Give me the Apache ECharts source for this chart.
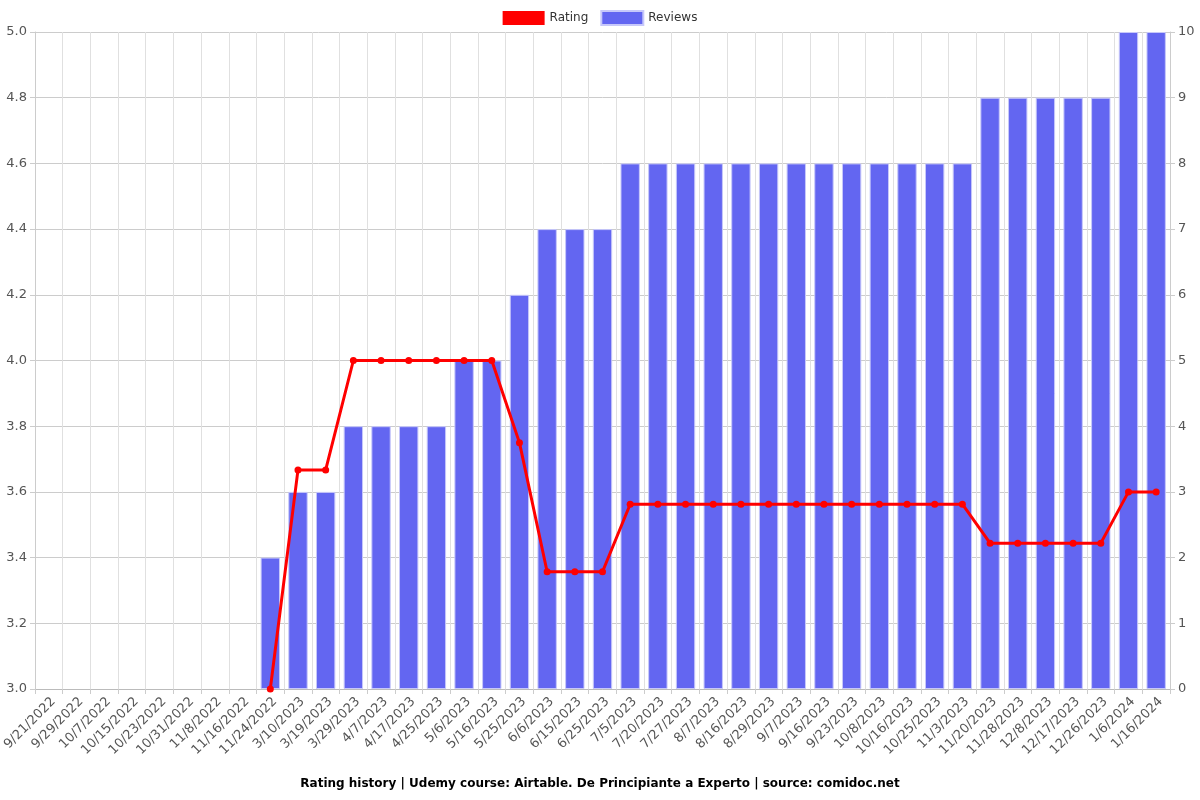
<!DOCTYPE html>
<html>
<head>
<meta charset="utf-8">
<script src="https://cdn.jsdelivr.net/npm/echarts@6/dist/echarts.min.js"></script>
<style>
  html, body { margin: 0; padding: 0; background: #fff; }
  #chart { width: 1200px; height: 800px; }
</style>
</head>
<body>
<div id="chart"></div>
<script>
// dates on the x axis
const dates = ['9/21/2022', '9/29/2022', '10/7/2022', '10/15/2022', '10/23/2022', '10/31/2022', '11/8/2022', '11/16/2022',
  '11/24/2022', '3/10/2023', '3/19/2023', '3/29/2023', '4/7/2023', '4/17/2023', '4/25/2023', '5/6/2023', '5/16/2023',
  '5/25/2023', '6/6/2023', '6/15/2023', '6/25/2023', '7/5/2023', '7/20/2023', '7/27/2023', '8/7/2023', '8/16/2023',
  '8/29/2023', '9/7/2023', '9/16/2023', '9/23/2023', '10/8/2023', '10/16/2023', '10/25/2023', '11/3/2023',
  '11/20/2023', '11/28/2023', '12/8/2023', '12/17/2023', '12/26/2023', '1/6/2024', '1/16/2024']

// average rating (null = no data yet)
const rating = [null, null, null, null, null, null, null, null,
  3.0, 3.667, 3.667, 4.0, 4.0, 4.0, 4.0, 4.0, 4.0,
  3.75, 3.357, 3.357, 3.357, 3.5625, 3.5625, 3.5625, 3.5625, 3.5625,
  3.5625, 3.5625, 3.5625, 3.5625, 3.5625, 3.5625, 3.5625, 3.5625,
  3.444, 3.444, 3.444, 3.444, 3.444, 3.6, 3.6]

// number of reviews
const reviews = [0, 0, 0, 0, 0, 0, 0, 0,
  2, 3, 3, 4, 4, 4, 4, 5, 5,
  6, 7, 7, 7, 8, 8, 8, 8, 8,
  8, 8, 8, 8, 8, 8, 8, 8,
  9, 9, 9, 9, 9, 10, 10]

const chart = echarts.init(document.getElementById('chart'))
const font = 'DejaVu Sans'

const option = {
  textStyle: { fontFamily: font },
  animation: false,
  title: {
    text: 'Rating history | Udemy course: Airtable. De Principiante a Experto | source: comidoc.net',
    left: 'center',
    bottom: 5,
    textStyle: { fontSize: 12, fontWeight: 'bold', color: '#000', fontFamily: font }
  },
  legend: {
    top: 5,
    itemWidth: 42,
    itemHeight: 14,
    itemGap: 12,
    textStyle: { fontSize: 12, color: '#333', fontFamily: font },
    data: [
      { name: 'Rating', icon: 'rect' },
      { name: 'Reviews', icon: 'rect' }
    ]
  },
  // fixed plot box, labels may run outside it
  grid: { left: 35, right: 30, top: 32, bottom: 111, outerBoundsMode: 'none', containLabel: false },
  xAxis: {
    type: 'category',
    data: dates,
    boundaryGap: true,
    axisLine: { lineStyle: { color: '#bbb' } },
    axisTick: { show: true, lineStyle: { color: '#ccc' } },
    splitLine: { show: true, lineStyle: { color: '#e0e0e0' } },
    axisLabel: { rotate: 45, interval: 0, color: '#555', fontSize: 13, margin: 6, verticalAlign: 'top' }
  },
  yAxis: [
    {
      type: 'value',
      min: 3.0,
      max: 5.0,
      interval: 0.2,
      position: 'left',
      axisLine: { show: true, lineStyle: { color: '#ccc' } },
      axisTick: { show: true, lineStyle: { color: '#ccc' } },
      splitLine: { lineStyle: { color: '#ccc' } },
      axisLabel: { color: '#555', fontSize: 13, formatter: v => v.toFixed(1) }
    },
    {
      type: 'value',
      min: 0,
      max: 10,
      interval: 1,
      position: 'right',
      axisLine: { show: true, lineStyle: { color: '#ccc' } },
      axisTick: { show: true, lineStyle: { color: '#ccc' } },
      splitLine: { show: false },
      axisLabel: { color: '#555', fontSize: 13 }
    }
  ],
  series: [
    {
      name: 'Rating',
      type: 'line',
      yAxisIndex: 0,
      data: rating,
      z: 3,
      color: '#ff0000',
      symbol: 'circle',
      symbolSize: 7,
      showSymbol: true,
      lineStyle: { width: 3, color: '#ff0000' },
      itemStyle: { color: '#ff0000' }
    },
    {
      name: 'Reviews',
      type: 'bar',
      yAxisIndex: 1,
      // no bar is drawn where there are no reviews yet
      data: reviews.map(v => (v === 0 ? null : v)),
      z: 2,
      color: '#6366f1',
      barWidth: '70%',
      itemStyle: { color: '#6366f1', borderColor: '#c7c8fa', borderWidth: 1 }
    }
  ]
}

chart.setOption(option)
</script>
</body>
</html>
